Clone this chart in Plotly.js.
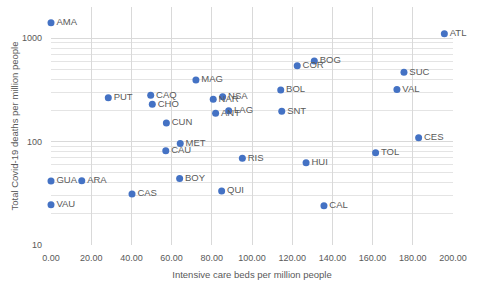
<!DOCTYPE html>
<html>
<head>
<meta charset="utf-8">
<script src="https://cdn.plot.ly/plotly-3.0.1.min.js"></script>
<style>html,body{margin:0;padding:0;background:#fff;}#chart{width:484px;height:283px;}</style>
</head>
<body>
<div id="chart"></div>
<script>
const regions = ["AMA","PUT","CAQ","CHO","CUN","MET","MAG","NAR","NSA","ANT","LAG","BOL","SNT","COR","BOG","ATL","SUC","VAL","CES","GUA","ARA","VAU","CAS","CAU","RIS","HUI","BOY","QUI","CAL","TOL"];
const icuBeds = [0, 28.5, 49.6, 50.4, 57.4, 64.3, 72.1, 80.7, 85.4, 81.9, 88.4, 114.3, 114.8, 122.5, 131, 195.7, 175.6, 172.1, 182.9, 0, 15.3, 0, 40.3, 57.1, 95.2, 126.9, 64, 84.9, 135.8, 161.5];
const deaths = [1406, 265, 281, 230, 151, 96, 393, 256, 271, 188, 199, 315, 196, 540, 600, 1100, 469, 319, 109, 41.5, 41.8, 24.5, 31.1, 81.5, 68.9, 62.4, 44, 33.3, 24, 78];
const xTicks = [0,20,40,60,80,100,120,140,160,180,200];
const xTickLabels = xTicks.map(v => v.toFixed(2));

const trace = {
  x: icuBeds, y: deaths, text: regions,
  type: 'scatter', mode: 'markers+text',
  textposition: 'middle right',
  textfont: {family: 'Liberation Sans, Arial, sans-serif', size: 9.5, color: '#595959'},
  marker: {color: '#4472C4', size: 7},
  cliponaxis: false,
  hoverinfo: 'none'
};

const layout = {
  width: 484, height: 283,
  margin: {l: 51, r: 31, t: 7, b: 38},
  paper_bgcolor: '#fff', plot_bgcolor: '#fff',
  showlegend: false,
  font: {family: 'Liberation Sans, Arial, sans-serif', color: '#595959'},
  xaxis: {
    range: [0, 200], tickvals: xTicks, ticktext: xTickLabels,
    showgrid: true, gridcolor: '#d9d9d9', gridwidth: 1,
    zeroline: false, showline: false, ticks: '',
    ticklabelstandoff: 6,
    tickfont: {size: 9, color: '#595959'},
    title: {text: 'Intensive care beds per million people', font: {size: 9.5, color: '#595959'}, standoff: 9}
  },
  yaxis: {
    type: 'log', range: [1, 3.301],
    tickmode: 'linear', tick0: 0, dtick: 1, exponentformat: 'none',
    showgrid: true, gridcolor: '#d9d9d9', gridwidth: 1,
    minor: {dtick: 'D1', showgrid: true, gridcolor: '#e4e4e4', gridwidth: 1, ticks: ''},
    zeroline: false, showline: false, ticks: '',
    ticklabelstandoff: 8,
    tickfont: {size: 9, color: '#595959'},
    title: {text: 'Total Covid-19 deaths per million people', font: {size: 9.5, color: '#595959'}, standoff: 1}
  }
};

Plotly.newPlot('chart', [trace], layout, {staticPlot: true, displayModeBar: false});
</script>
</body>
</html>
